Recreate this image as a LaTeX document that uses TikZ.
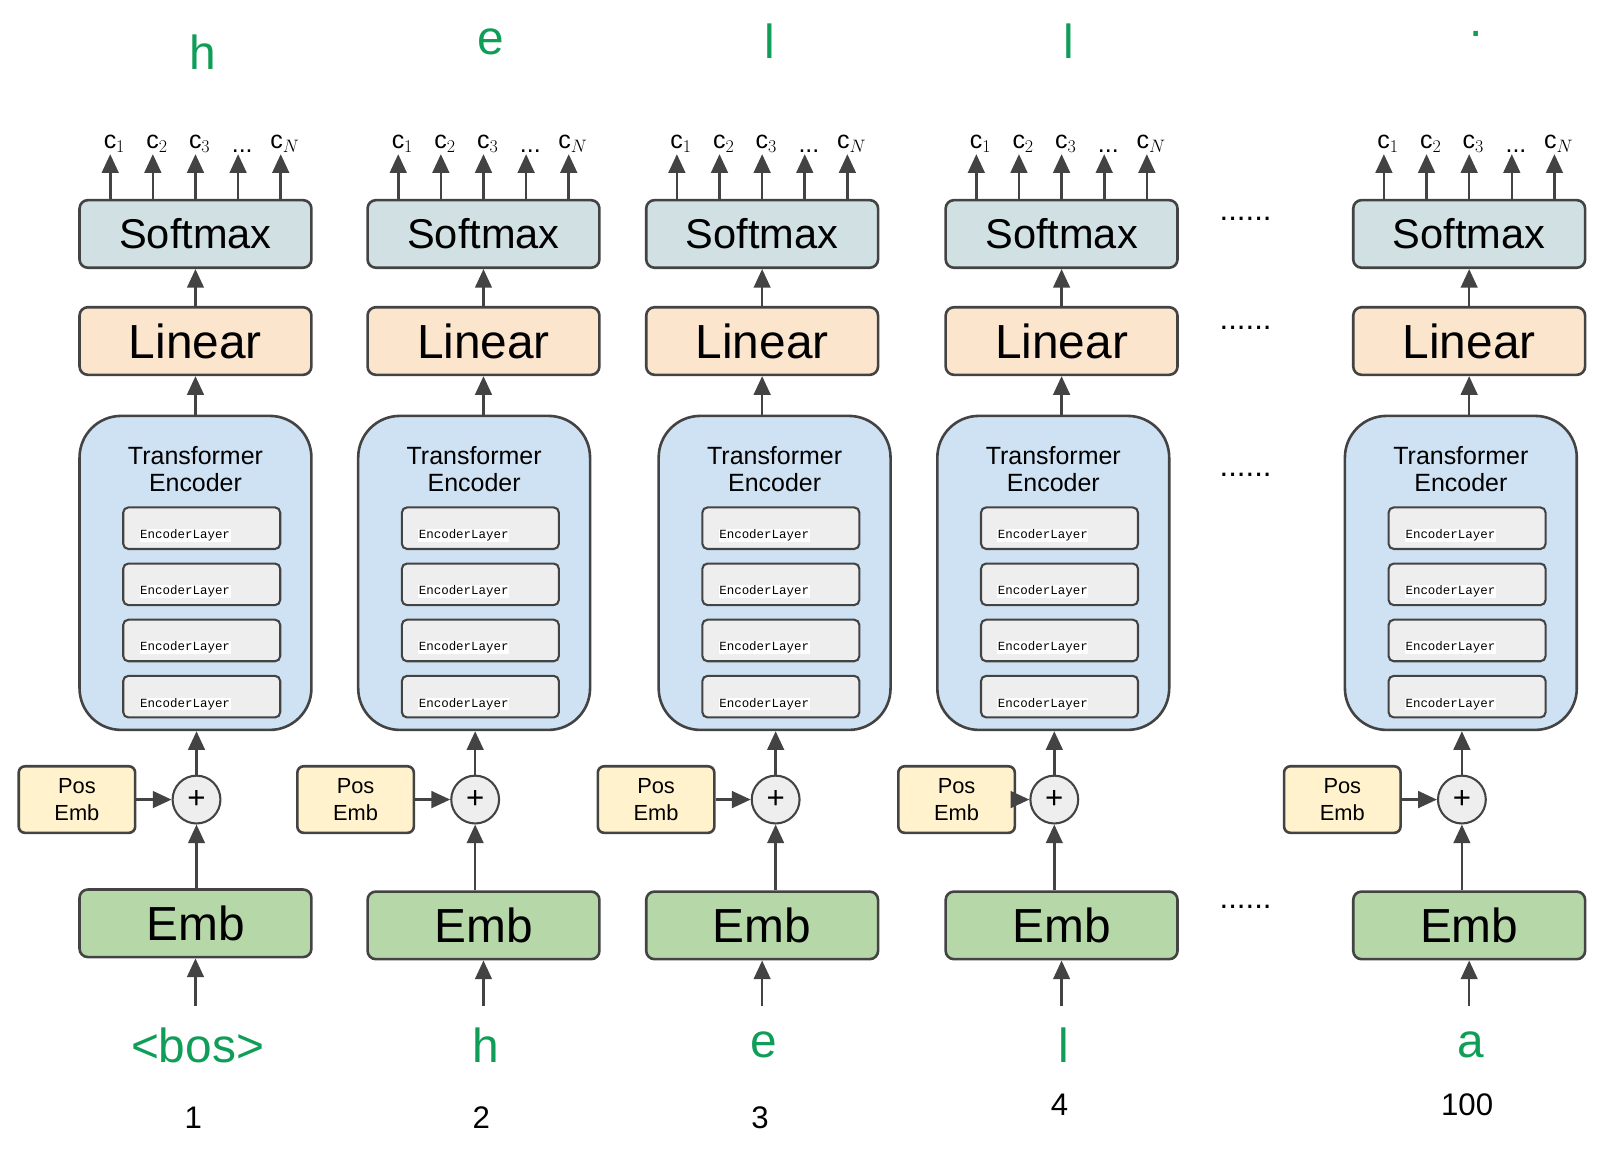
\documentclass[tikz,border=0pt]{standalone}
\usepackage{fontspec}
\setmainfont{Liberation Sans}
\newfontfamily\monof{Liberation Mono}
\usetikzlibrary{arrows.meta}
\definecolor{smx}{HTML}{D0E0E3}
\definecolor{lin}{HTML}{FCE5CD}
\definecolor{enc}{HTML}{CFE2F3}
\definecolor{lay}{HTML}{EEEEEE}
\definecolor{pos}{HTML}{FFF2CC}
\definecolor{emb}{HTML}{B6D7A8}
\definecolor{grn}{HTML}{0F9D58}
\definecolor{dk}{HTML}{434343}
\begin{document}
\begin{tikzpicture}[x=1pt,y=-1pt,
  bx/.style={draw=dk,line width=2.5pt,rounded corners=8pt,minimum width=223pt,minimum height=65pt,inner sep=0},
  sm/.style={bx,fill=smx,font=\fontsize{40}{40}\selectfont},
  ln/.style={bx,fill=lin,font=\fontsize{46}{46}\selectfont},
  em/.style={bx,fill=emb,font=\fontsize{46}{46}\selectfont},
  tr/.style={draw=dk,line width=2.5pt,rounded corners=40pt,fill=enc,minimum width=223pt,minimum height=302pt,inner sep=0},
  ly/.style={draw=dk,line width=2pt,rounded corners=5pt,fill=lay,minimum width=151pt,minimum height=40pt,inner sep=0},
  ps/.style={draw=dk,line width=2.5pt,rounded corners=6pt,fill=pos,minimum width=112pt,minimum height=64pt,inner sep=0,align=center,font=\fontsize{21}{26}\selectfont},
  pl/.style={circle,draw=dk,line width=2pt,fill=lay,minimum size=46pt,inner sep=0,font=\fontsize{30}{30}\selectfont},
  ar/.style={draw=dk,line width=2.5pt,-{Triangle[length=18pt,width=16pt]}},
  gl/.style={text=grn,font=\fontsize{46}{46}\selectfont},
  nm/.style={font=\fontsize{30}{30}\selectfont},
  cl/.style={font=\fontsize{24}{24}\selectfont},
  dt/.style={font=\fontsize{30}{30}\selectfont}]
\useasboundingbox (0,0) rectangle (1560,1107);
\foreach \i/\cx/\tx/\px/\ey/\top/\tpy/\inp/\num/\ny in {
  1/188/188/74/888/h/50/{<bos>}/1/1075,
  2/465/456/342/890/e/40/h/2/1075,
  3/733/745/631/890/l/40/e/3/1075,
  4/1021/1013/920/890/l/40/l/4/1063,
  5/1413/1405/1291/890/./33/a/100/1063}{
  \node[sm] (s\i) at (\cx,225) {Softmax};
  \node[ln] (l\i) at (\cx,328) {Linear};
  \node[tr] (t\i) at (\tx,551) {};
  \node[align=center,font=\fontsize{24}{26}\selectfont] at (\tx,451) {Transformer\\Encoder};
  \foreach \k/\yy in {1/508,2/562,3/616,4/670}{
    \node[ly] (y\i\k) at (\tx+6,\yy) {};
    \node[font=\monof\fontsize{12}{12}\selectfont,fill=white,inner sep=0.5pt] at (\tx-10,\yy+7) {EncoderLayer};
  }
  \node[ps] (p\i) at (\px,769) {Pos\\Emb};
  \node[pl] (c\i) at (\tx+1,769) {+};
  \node[em] (e\i) at (\cx,\ey) {Emb};
  \node[gl] (g\i) at (\cx+2,1005) {\inp};
  \coordinate (q\i) at (\cx,968);
  \node[nm] (n\i) at (\cx-2,\ny) {\num};
  \node[gl] (o\i) at (\cx+7,\tpy) {\top};
  \draw[ar] (q\i) -- (e\i);
  \draw[ar] (e\i.north -| c\i) -- (c\i);
  \draw[ar] (p\i) -- (c\i);
  \draw[ar] (c\i) -- (t\i.south -| c\i);
  \draw[ar] (t\i.north -| l\i) -- (l\i);
  \draw[ar] (l\i) -- (s\i);
  \foreach \k/\lab in {1/{c$_1$},2/{c$_2$},3/{c$_3$},4/{...},5/{c$_N$}}{
    \coordinate (a\i\k) at ([xshift={(\k-3)*41pt}]s\i.north);
    \coordinate (b\i\k) at ([yshift=43pt]a\i\k);
    \draw[ar] (a\i\k) -- (b\i\k);
    \node[cl,anchor=south] (d\i\k) at ([yshift=-2pt,xshift=4pt]b\i\k) {\lab};
  }
}
\foreach \yy in {220,325,467,882}{\node[dt] (dd\yy) at (1198,\yy-10) {......};}
\end{tikzpicture}
\end{document}
